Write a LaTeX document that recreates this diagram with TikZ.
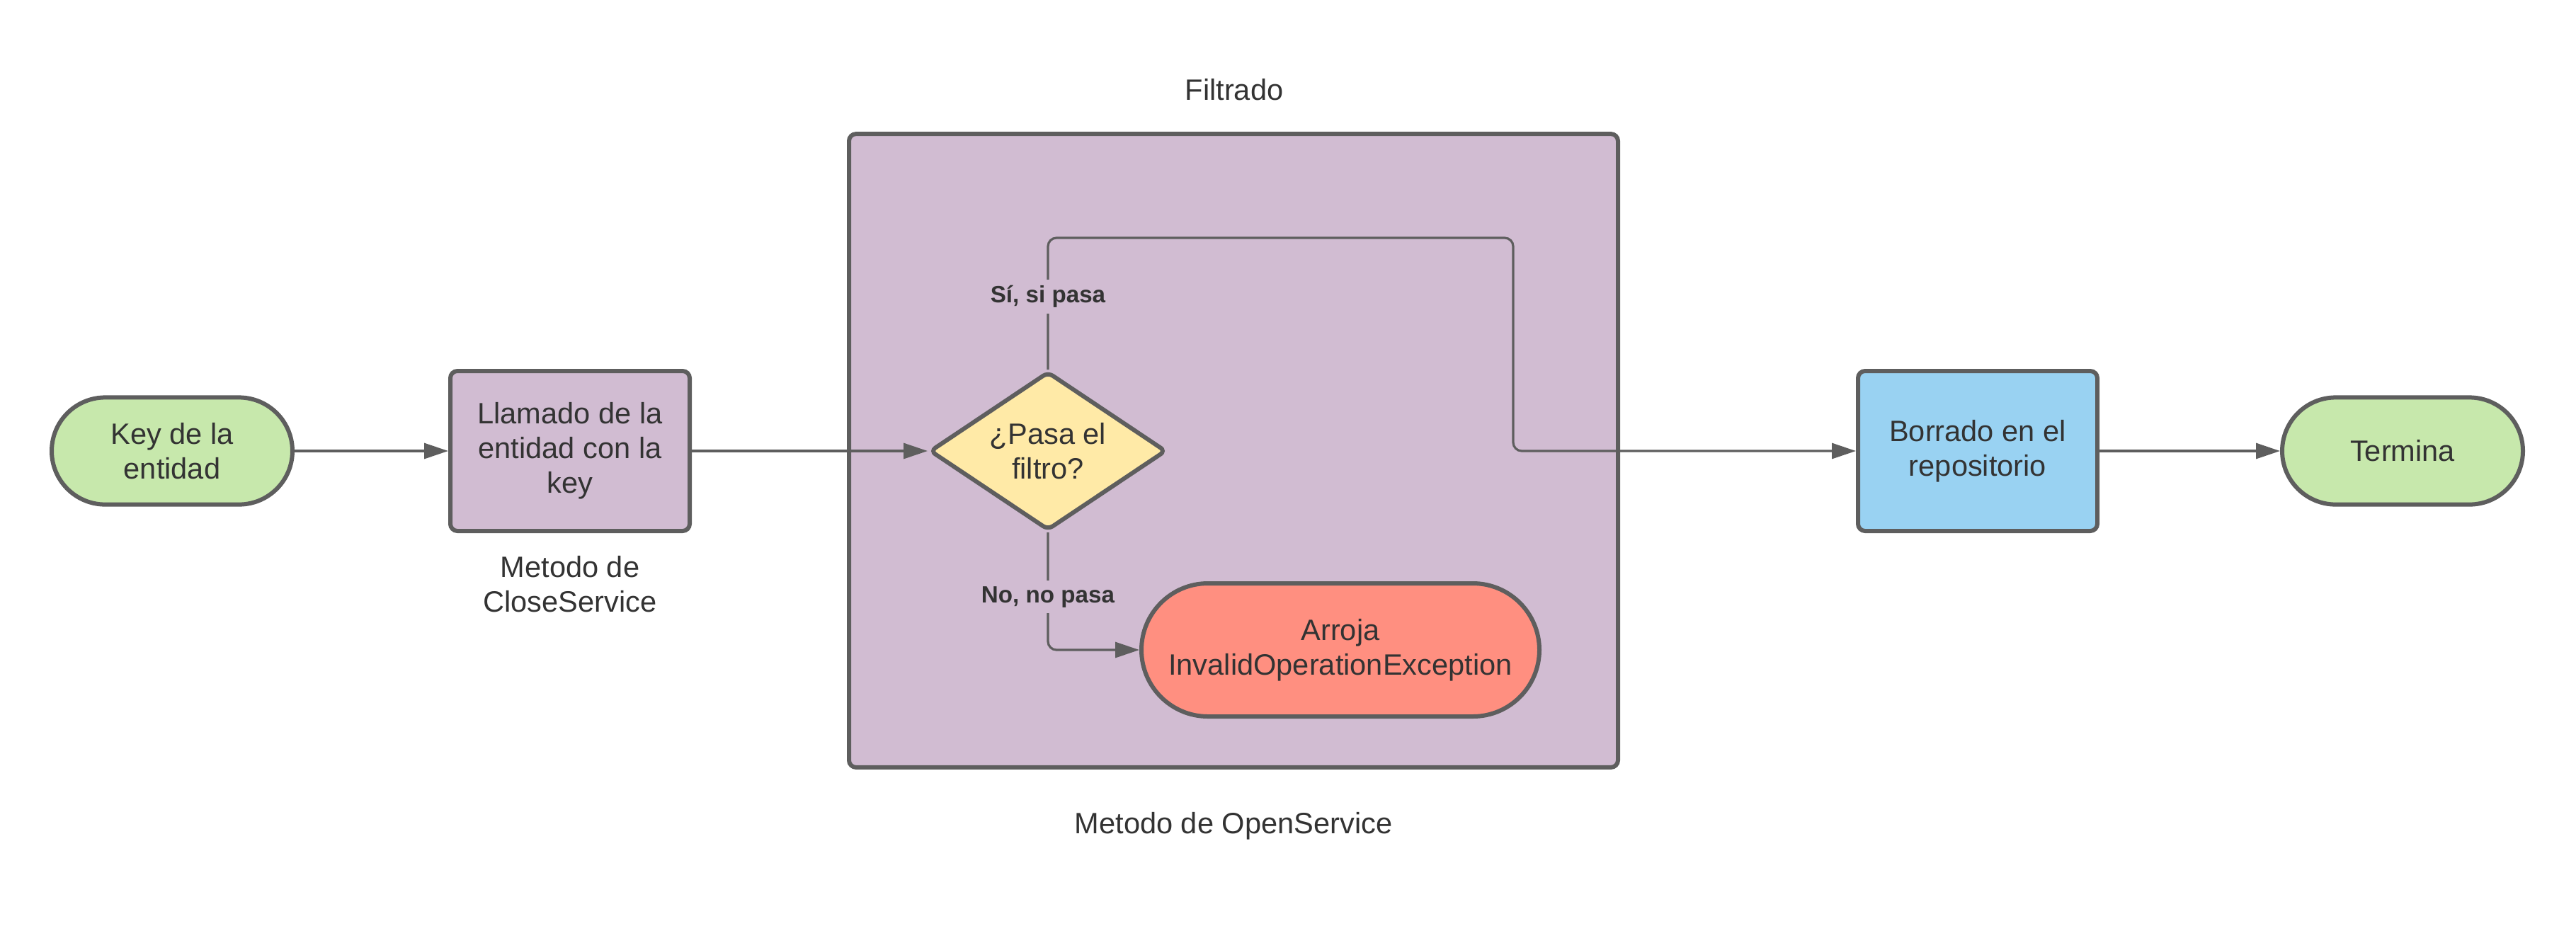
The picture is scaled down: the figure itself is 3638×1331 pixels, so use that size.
\documentclass[tikz,border=0pt]{standalone}
\usepackage{fontspec}
\setmainfont{Liberation Sans}
\usetikzlibrary{arrows.meta,shapes.geometric,shapes.misc}

\definecolor{borde}{HTML}{5E5E5E}
\definecolor{texto}{HTML}{333333}
\definecolor{verde}{HTML}{C7E8AC}
\definecolor{lila}{HTML}{D1BCD2}
\definecolor{amarillo}{HTML}{FFEAA7}
\definecolor{rojo}{HTML}{FF8F80}
\definecolor{azul}{HTML}{99D2F2}

\begin{document}
\begin{tikzpicture}[x=0.25pt, y=-0.25pt,
    every node/.style={text=texto, font=\fontsize{10.4}{12.2}\selectfont, align=center, inner sep=0pt},
    caja/.style={draw=borde, line width=1.5pt, rounded corners=2.5pt, minimum width=84.5pt, minimum height=56.5pt},
    terminal/.style={rounded rectangle, draw=borde, fill=verde, line width=1.5pt, minimum width=85pt, minimum height=37.8pt},
    flecha/.style={draw=borde, line width=0.8pt, -{Triangle[length=8.5pt, width=5.5pt]}},
    etiqueta/.style={fill=lila, font=\bfseries\fontsize{8.3}{10}\selectfont, inner sep=2pt}]
    \useasboundingbox (0,0) rectangle (3638,1331);
    % cajas del flujo
    \node[terminal] (key) at (243,637) {Key de la\\entidad};
    \node[caja, fill=lila] (llamado) at (805,637) {Llamado de la\\entidad con la\\key};
    \node (close) at (805,825) {Metodo de\\CloseService};
    \node[caja, fill=lila, minimum width=271.5pt, minimum height=223.7pt] (filtrado) at (1742,636.5) {};
    \node (titulo) at (1743,127) {Filtrado};
    \node (open) at (1742,1167) {Metodo de OpenService};
    \node[diamond, aspect=1.5, draw=borde, fill=amarillo, line width=1.5pt, rounded corners=2pt,
        minimum width=83.5pt, minimum height=56pt] (filtro) at (1480,637) {¿Pasa el\\filtro?};
    \node[terminal, fill=rojo, minimum width=140.5pt, minimum height=47pt] (arroja) at (1893,918) {Arroja\\InvalidOperationException};
    \node[caja, fill=azul] (borrado) at (2793,637) {Borrado en el\\repositorio};
    \node[terminal] (termina) at (3393,637) {Termina};
    % conectores
    \draw[flecha] (key.east) -- (llamado.west);
    \draw[flecha] (llamado.east) -- (filtro.west);
    \coordinate (si1) at (1480,336);
    \coordinate (si2) at (2137,336);
    \draw[flecha, rounded corners=3pt] (filtro.north) -- (si1) -- (si2) |- (borrado.west);
    \node[etiqueta] (si) at (1480,419) {Sí, si pasa};
    \draw[flecha, rounded corners=3pt] (filtro.south) |- (arroja.west);
    \node[etiqueta] (no) at (1480,843) {No, no pasa};
    \draw[flecha] (borrado.east) -- (termina.west);
\end{tikzpicture}
\end{document}
